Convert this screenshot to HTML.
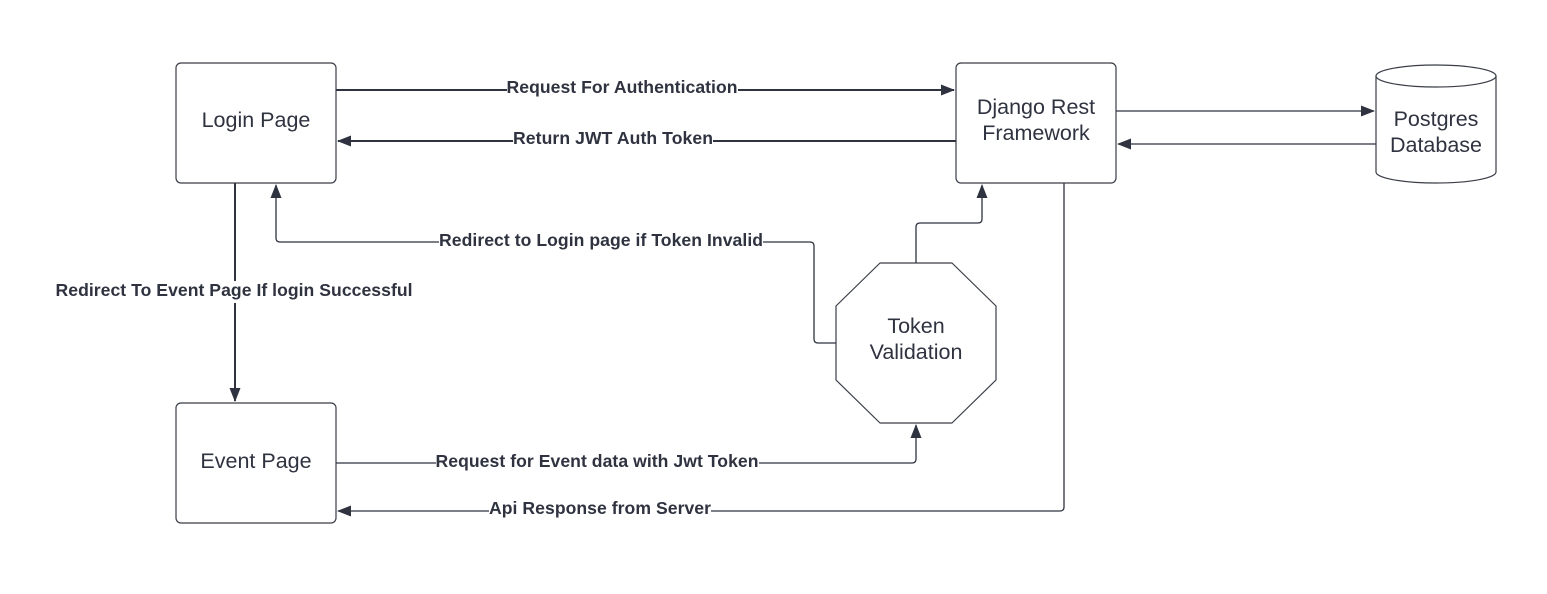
<!DOCTYPE html>
<html><head><meta charset="utf-8"><style>
html,body{margin:0;padding:0;background:#fff;}
svg{display:block;}
.n{font-family:"Liberation Sans",sans-serif;font-size:21.5px;fill:#2f3340;}
.l{font-family:"Liberation Sans",sans-serif;font-size:17.6px;font-weight:bold;fill:#2f3340;}
</style></head><body>
<svg width="1547" height="594" viewBox="0 0 1547 594" xmlns="http://www.w3.org/2000/svg">
<defs>
<marker id="a" markerWidth="14" markerHeight="11" refX="13" refY="5.5" orient="auto" markerUnits="userSpaceOnUse">
<path d="M0,0 L14,5.5 L0,11 Z" fill="#2f3340"/></marker>
</defs>
<g fill="#fff" stroke="#3a3d48" stroke-width="1.2">
<rect x="176" y="63" width="160" height="120" rx="5"/>
<rect x="176" y="403" width="160" height="120" rx="5"/>
<rect x="956" y="63" width="160" height="120" rx="5"/>
<path d="M880,263 L952,263 L996,306 L996,380 L952,423 L880,423 L836,380 L836,306 Z" stroke-linejoin="round"/>
<path d="M1376,76 L1376,172 A60,11 0 0 0 1496,172 L1496,76"/>
<ellipse cx="1436" cy="76" rx="60" ry="11"/>
</g>
<g fill="none" stroke="#2f3340">
<path d="M336,90 H954" stroke-width="2" marker-end="url(#a)"/>
<path d="M956,141 H338" stroke-width="2" marker-end="url(#a)"/>
<path d="M235,183 V401" stroke-width="2" marker-end="url(#a)"/>
<path d="M836,343 H818 Q814,343 814,339 V246 Q814,242 810,242 H280 Q276,242 276,238 V185" stroke-width="1.3" marker-end="url(#a)"/>
<path d="M916,263 V227 Q916,223 920,223 H978 Q982,223 982,219 V185" stroke-width="1.3" marker-end="url(#a)"/>
<path d="M336,463 H912 Q916,463 916,459 V425" stroke-width="1.3" marker-end="url(#a)"/>
<path d="M1064,183 V507 Q1064,511 1060,511 H338" stroke-width="1.3" marker-end="url(#a)"/>
<path d="M1116,111 H1374" stroke-width="1.2" marker-end="url(#a)"/>
<path d="M1376,144 H1118" stroke-width="1.2" marker-end="url(#a)"/>
</g>
<g class="l" text-anchor="middle">
<rect x="507" y="78" width="231" height="20" fill="#fff"/>
<text x="622" y="93" textLength="231">Request For Authentication</text>
<rect x="513" y="128" width="200" height="20" fill="#fff"/>
<text x="613" y="144" textLength="200">Return JWT Auth Token</text>
<rect x="439" y="231" width="324" height="20" fill="#fff"/>
<text x="601" y="246" textLength="324">Redirect to Login page if Token Invalid</text>
<rect x="56" y="281" width="357" height="22" fill="#fff"/>
<text x="234" y="296" textLength="357">Redirect To Event Page If login Successful</text>
<rect x="436" y="452" width="323" height="20" fill="#fff"/>
<text x="597" y="467" textLength="323">Request for Event data with Jwt Token</text>
<rect x="489" y="499" width="222" height="20" fill="#fff"/>
<text x="600" y="514" textLength="222">Api Response from Server</text>
</g>
<g class="n" text-anchor="middle">
<text x="256" y="127">Login Page</text>
<text x="256" y="468">Event Page</text>
<text x="1036" y="114">Django Rest</text>
<text x="1036" y="140">Framework</text>
<text x="916" y="333">Token</text>
<text x="916" y="359">Validation</text>
<text x="1436" y="126">Postgres</text>
<text x="1436" y="152">Database</text>
</g>
</svg>
</body></html>
